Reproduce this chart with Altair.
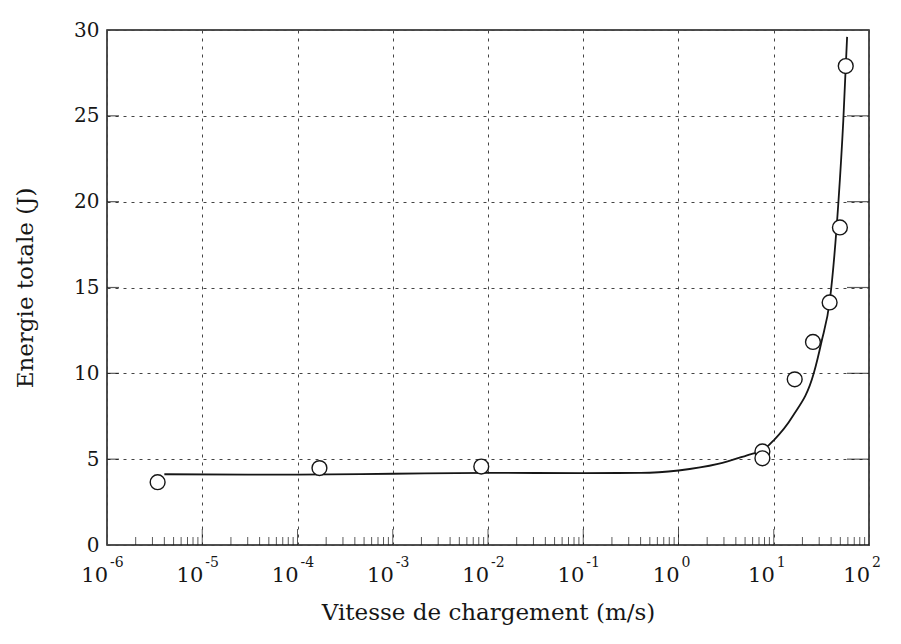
import altair as alt
import pandas as pd

# Measured points (open circles)
speed_pts = [3.4e-6, 1.7e-4, 8.5e-3, 7.6, 7.6, 16.6, 25.8, 38.6, 49.5, 57.0]
energy_pts = [3.66, 4.48, 4.57, 5.45, 5.05, 9.65, 11.83, 14.13, 18.5, 27.9]

# Fitted curve
curve_speed = [4e-6, 1e-4, 1e-3, 1e-2, 1e-1, 0.4, 1.0, 2.6, 5.8, 7.6, 10.0, 15.8, 26.3, 31.6, 38.9, 47.9, 53.7, 58.9]
curve_energy = [4.12, 4.1, 4.15, 4.2, 4.19, 4.2, 4.34, 4.72, 5.3, 5.5, 6.1, 7.5, 10.0, 11.8, 14.3, 20.1, 24.7, 29.6]

# Axis definitions
decades = [1e-6, 1e-5, 1e-4, 1e-3, 1e-2, 1e-1, 1e0, 1e1, 1e2]
exponents = ["-6", "-5", "-4", "-3", "-2", "-1", "0", "1", "2"]
minor_mult = [2, 3, 4, 5, 6, 7, 8, 9]
y_values = [0, 5, 10, 15, 20, 25, 30]
inner_y = [5, 10, 15, 20, 25]

W, H = 762, 515
FONT = "DejaVu Serif"
INK = "#161616"

pts = pd.DataFrame({"v": speed_pts, "e": energy_pts})
curve = pd.DataFrame({"v": curve_speed, "e": curve_energy})
minor = pd.DataFrame({"v": [m * d for d in decades[:-1] for m in minor_mult]})
major = pd.DataFrame({"v": decades[1:-1]})
labels = pd.DataFrame({"v": decades, "base": ["10"] * len(decades), "sup": exponents})
yin = pd.DataFrame({"e": inner_y})

xscale = alt.Scale(type="log", domain=[1e-6, 1e2], nice=False)
yscale = alt.Scale(domain=[0, 30], nice=False)

x_axis = alt.Axis(
    values=decades, labels=False,
    grid=True, gridDash=[3, 5], gridColor="#444", gridWidth=1,
    tickSize=0, domain=False,
    title="Vitesse de chargement (m/s)", titleFont=FONT, titleFontSize=23,
    titleFontWeight="normal", titleColor=INK, titlePadding=56,
)
y_axis = alt.Axis(
    values=y_values, grid=True, gridDash=[3, 5], gridColor="#444", gridWidth=1,
    tickSize=0, domain=False, labelFont=FONT, labelFontSize=20, labelColor=INK,
    labelPadding=8,
    title="Energie totale (J)", titleFont=FONT, titleFontSize=23,
    titleFontWeight="normal", titleColor=INK, titlePadding=36,
)

line = alt.Chart(curve).mark_line(color=INK, strokeWidth=1.8, interpolate="monotone").encode(
    x=alt.X("v:Q", scale=xscale, axis=x_axis),
    y=alt.Y("e:Q", scale=yscale, axis=y_axis),
)

circles = alt.Chart(pts).mark_point(
    shape="circle", filled=True, color="white", stroke=INK, strokeWidth=1.4,
    size=220, opacity=1,
).encode(
    x=alt.X("v:Q", scale=xscale),
    y=alt.Y("e:Q", scale=yscale),
)

minor_ticks = alt.Chart(minor).mark_tick(orient="vertical", size=8, thickness=1, color=INK).encode(
    x=alt.X("v:Q", scale=xscale),
    y=alt.value(H - 4),
)
major_ticks = alt.Chart(major).mark_tick(orient="vertical", size=16, thickness=1, color=INK).encode(
    x=alt.X("v:Q", scale=xscale),
    y=alt.value(H - 8),
)
left_ticks = alt.Chart(yin).mark_tick(orient="horizontal", size=12, thickness=1.2, color=INK).encode(
    y=alt.Y("e:Q", scale=yscale),
    x=alt.value(6),
)
right_ticks = alt.Chart(yin).mark_tick(orient="horizontal", size=22, thickness=1.2, color=INK).encode(
    y=alt.Y("e:Q", scale=yscale),
    x=alt.value(W - 11),
)

base_labels = alt.Chart(labels).mark_text(
    font=FONT, fontSize=21, color=INK, align="right", baseline="middle", dx=1,
).encode(
    x=alt.X("v:Q", scale=xscale),
    y=alt.value(H + 31),
    text="base:N",
)
sup_labels = alt.Chart(labels).mark_text(
    font=FONT, fontSize=14, color=INK, align="left", baseline="middle", dx=3,
).encode(
    x=alt.X("v:Q", scale=xscale),
    y=alt.value(H + 18),
    text="sup:N",
)

chart = alt.layer(
    minor_ticks, major_ticks, left_ticks, right_ticks, line, circles, base_labels, sup_labels
).properties(
    width=W, height=H,
    padding={"left": 6, "top": 12, "right": 0, "bottom": 2},
    background="white",
).configure_view(stroke=INK, strokeWidth=1.5)

chart.save("out.html", embed_options={"renderer": "svg", "actions": False})
